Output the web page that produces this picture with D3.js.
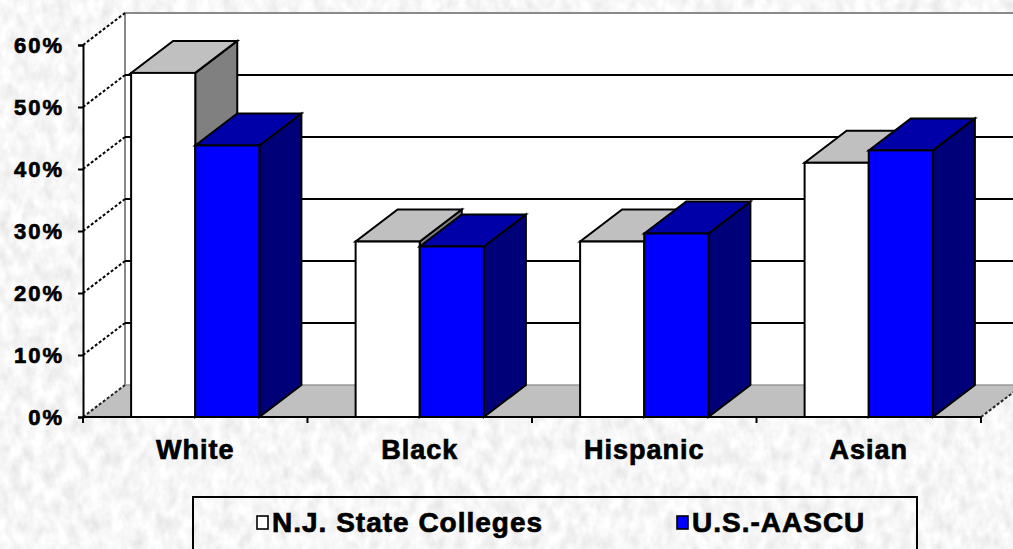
<!DOCTYPE html>
<html>
<head>
<meta charset="utf-8">
<script src="https://cdn.jsdelivr.net/npm/d3@7"></script>
<style>
  html, body { margin: 0; padding: 0; background: #e8e8e8; }
  svg { display: block; }
  text { font-family: "Liberation Sans", Arial, sans-serif; font-weight: bold; fill: #000;
         stroke: #000; stroke-width: 0.7px; }
</style>
</head>
<body>
<svg id="chart" width="1013" height="549"></svg>
<script>
// Enrollment share by group
const categories = ["White", "Black", "Hispanic", "Asian"];
const seriesNames = ["N.J. State Colleges", "U.S.-AASCU"];
const njValues = [55.5, 28.3, 28.3, 41.0];
const usValues = [43.8, 27.5, 29.6, 43.0];
const yTicks = [0, 10, 20, 30, 40, 50, 60];

const W = 1013, H = 549;
const svg = d3.select("#chart");

// paper-like textured backdrop
const defs = svg.append("defs");
const f = defs.append("filter").attr("id", "paper")
  .attr("x", 0).attr("y", 0).attr("width", "100%").attr("height", "100%");
f.append("feTurbulence").attr("type", "fractalNoise")
  .attr("baseFrequency", "0.09 0.06").attr("numOctaves", 3).attr("seed", 7).attr("result", "n");
f.append("feColorMatrix").attr("type", "matrix")
  .attr("values", "0.35 0 0 0 0.75  0.35 0 0 0 0.75  0.35 0 0 0 0.75  0 0 0 0 1");
svg.append("rect").attr("width", W).attr("height", H).attr("filter", "url(#paper)");

// 3-D geometry: depth offset of the back plane
const DX = 42, DY = -32;
const xLeft = 83, xRight = 981;

const y = d3.scaleLinear().domain([0, 60]).range([417, 45]);
const x = d3.scaleBand().domain(categories).range([xLeft, xRight]).paddingInner(0).paddingOuter(0);
const barW = x.bandwidth() / 3.5;
const xs = d3.scaleBand().domain(seriesNames).range([0, 2 * barW]);

const y0 = y(0), yTop = y(60);

// side wall (left)
svg.append("path")
  .attr("d", `M${xLeft},${yTop} L${xLeft + DX},${yTop + DY} L${xLeft + DX},${y0 + DY} L${xLeft},${y0} Z`)
  .attr("fill", "#fff");

// back wall
svg.append("rect")
  .attr("x", xLeft + DX).attr("y", yTop + DY)
  .attr("width", xRight + DX - (xLeft + DX)).attr("height", y0 - yTop)
  .attr("fill", "#fff");

// back wall frame
svg.append("path")
  .attr("d", `M${xLeft + DX},${y0 + DY} L${xLeft + DX},${yTop + DY} L${xRight + DX + 20},${yTop + DY}`)
  .attr("fill", "none").attr("stroke", "#8a8a8a").attr("stroke-width", 2);

// gridlines on back wall and dotted lines across side wall
yTicks.filter(v => v > 0 && v < 60).forEach(v => {
  svg.append("line")
    .attr("x1", xLeft + DX).attr("x2", xRight + DX + 20)
    .attr("y1", y(v) + DY).attr("y2", y(v) + DY)
    .attr("stroke", "#000").attr("stroke-width", 2);
});
yTicks.filter(v => v > 0).forEach(v => {
  svg.append("line")
    .attr("x1", xLeft).attr("y1", y(v))
    .attr("x2", xLeft + DX).attr("y2", y(v) + DY)
    .attr("stroke", "#000").attr("stroke-width", 2).attr("stroke-dasharray", "3,2");
});

// floor
svg.append("path")
  .attr("d", `M${xLeft},${y0} L${xRight},${y0} L${xRight + DX},${y0 + DY} L${xLeft + DX},${y0 + DY} Z`)
  .attr("fill", "#c0c0c0");
svg.append("line")
  .attr("x1", xLeft + DX).attr("x2", xRight + DX)
  .attr("y1", y0 + DY).attr("y2", y0 + DY)
  .attr("stroke", "#9a9a9a").attr("stroke-width", 1.5);
[xLeft, xRight].forEach(xx => {
  svg.append("line")
    .attr("x1", xx).attr("y1", y0).attr("x2", xx + DX).attr("y2", y0 + DY)
    .attr("stroke", "#222").attr("stroke-width", 2).attr("stroke-dasharray", "3,2");
});

// bars
const seriesData = [
  { name: seriesNames[0], values: njValues, front: "#ffffff", top: "#c0c0c0", side: "#808080" },
  { name: seriesNames[1], values: usValues, front: "#0000ff", top: "#0000a8", side: "#000078" }
];

const barsG = svg.append("g");
categories.forEach((cat, i) => {
  seriesData.forEach(s => {
    const v = s.values[i];
    const x0 = x(cat) + 0.75 * barW + xs(s.name);
    const x1 = x0 + xs.bandwidth();
    const yv = y(v);
    const g = barsG.append("g")
      .attr("stroke", "#000").attr("stroke-width", 2).attr("stroke-linejoin", "miter");
    g.append("path")
      .attr("d", `M${x1},${yv} L${x1 + DX},${yv + DY} L${x1 + DX},${y0 + DY} L${x1},${y0} Z`)
      .attr("fill", s.side);
    g.append("path")
      .attr("d", `M${x0},${yv} L${x1},${yv} L${x1 + DX},${yv + DY} L${x0 + DX},${yv + DY} Z`)
      .attr("fill", s.top);
    g.append("rect")
      .attr("x", x0).attr("y", yv).attr("width", x1 - x0).attr("height", y0 - yv)
      .attr("fill", s.front);
  });
});

// value axis
const yAxis = svg.append("g")
  .attr("transform", `translate(${xLeft},0)`)
  .call(d3.axisLeft(y).tickValues(yTicks).tickFormat(d => d + "%").tickSize(5).tickPadding(14));
yAxis.select(".domain").attr("stroke", "#000").attr("stroke-width", 2);
yAxis.selectAll(".tick line").attr("stroke", "#000").attr("stroke-width", 2);
yAxis.selectAll(".tick text")
  .style("font-size", "22px").style("letter-spacing", "2px")
  .attr("dy", "0.36em").attr("fill", "#000");

// category axis: line with ticks on band edges, labels at band centres
const edges = categories.map(c => x(c)).concat([xRight]);
svg.append("line")
  .attr("x1", xLeft).attr("x2", xRight).attr("y1", y0).attr("y2", y0)
  .attr("stroke", "#000").attr("stroke-width", 2);
edges.forEach(e => {
  svg.append("line")
    .attr("x1", e).attr("x2", e).attr("y1", y0).attr("y2", y0 + 6)
    .attr("stroke", "#000").attr("stroke-width", 2);
});
const xAxis = svg.append("g")
  .attr("transform", `translate(0,${y0})`)
  .call(d3.axisBottom(x).tickSize(0).tickPadding(23));
xAxis.select(".domain").remove();
xAxis.selectAll(".tick text")
  .style("font-size", "27px").style("letter-spacing", "1px").attr("fill", "#000");

// legend
const lg = svg.append("g");
lg.append("rect")
  .attr("x", 193).attr("y", 497).attr("width", 724).attr("height", 70)
  .attr("fill", "none").attr("stroke", "#000").attr("stroke-width", 2);
const legendItems = [
  { name: seriesNames[0], fill: "#ffffff", x: 257 },
  { name: seriesNames[1], fill: "#0000ff", x: 677 }
];
legendItems.forEach(it => {
  lg.append("rect")
    .attr("x", it.x).attr("y", 516).attr("width", 11).attr("height", 13)
    .attr("fill", it.fill).attr("stroke", "#000").attr("stroke-width", 1.6);
  lg.append("text")
    .attr("x", it.x + 15).attr("y", 532)
    .style("font-size", "28px").style("letter-spacing", "1px")
    .text(it.name);
});
</script>
</body>
</html>
